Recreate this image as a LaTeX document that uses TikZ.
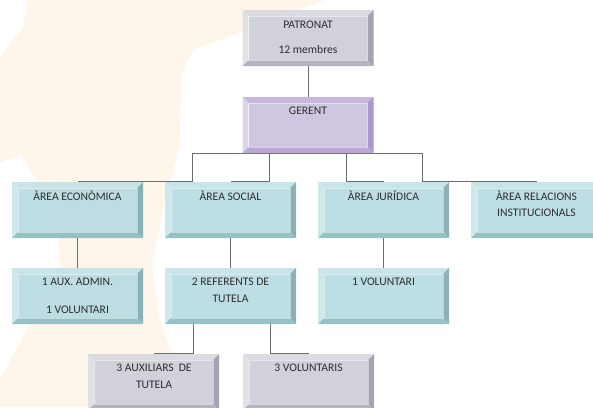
\documentclass[tikz,border=0pt]{standalone}
\usepackage{fontspec}
\setmainfont{Carlito}
\pgfdeclarelayer{back}
\pgfdeclarelayer{conn}
\pgfsetlayers{back,conn,main}
\definecolor{cream}{HTML}{FEF6EA}
\definecolor{txtc}{HTML}{2E2E2E}
\definecolor{linec}{HTML}{6E6E6E}
\definecolor{tface}{HTML}{B6DBE2}
\definecolor{ttop}{HTML}{C2E2E7}
\definecolor{tleft}{HTML}{C9E6EB}
\definecolor{tright}{HTML}{7FA9B0}
\definecolor{tbot}{HTML}{8CBBC2}
\definecolor{gface}{HTML}{CDCDD8}
\definecolor{gtop}{HTML}{D8D8E1}
\definecolor{gleft}{HTML}{DEDEE6}
\definecolor{gright}{HTML}{9A9AA9}
\definecolor{gbot}{HTML}{ABABBB}
\definecolor{pface}{HTML}{CDC0DF}
\definecolor{ptop}{HTML}{C3AFD9}
\definecolor{pleft}{HTML}{DAD0E9}
\definecolor{pright}{HTML}{A48DC4}
\definecolor{pbot}{HTML}{B49FD1}
\tikzset{
  bev/.style n args={5}{rectangle, minimum width=131pt, minimum height=56pt, inner sep=0pt,
    path picture={
      \coordinate (qa) at (path picture bounding box.north west);
      \coordinate (qb) at (path picture bounding box.north east);
      \coordinate (qc) at (path picture bounding box.south east);
      \coordinate (qd) at (path picture bounding box.south west);
      \fill[#1, fill opacity=.9] ([shift={(6pt,-6pt)}]qa) rectangle ([shift={(-6pt,6pt)}]qc);
      \fill[#2, fill opacity=.9] (qa) -- (qb) -- ([shift={(-6pt,-6pt)}]qb) -- ([shift={(6pt,-6pt)}]qa) -- cycle;
      \fill[#3, fill opacity=.9] (qa) -- ([shift={(6pt,-6pt)}]qa) -- ([shift={(6pt,6pt)}]qd) -- (qd) -- cycle;
      \fill[#4, fill opacity=.9] (qb) -- (qc) -- ([shift={(-6pt,6pt)}]qc) -- ([shift={(-6pt,-6pt)}]qb) -- cycle;
      \fill[#5, fill opacity=.9] (qd) -- (qc) -- ([shift={(-6pt,6pt)}]qc) -- ([shift={(6pt,6pt)}]qd) -- cycle;
      \draw[white, opacity=.45, line width=.6pt] ([shift={(6pt,-6pt)}]qa) rectangle ([shift={(-6pt,6pt)}]qc);
    }},
  tealbox/.style={bev={tface}{ttop}{tleft}{tright}{tbot}},
  graybox/.style={bev={gface}{gtop}{gleft}{gright}{gbot}},
  purplebox/.style={bev={pface}{ptop}{pleft}{pright}{pbot}},
  txt/.style={font=\fontsize{11.6}{14}\selectfont, text=txtc, inner sep=0pt, anchor=base},
  conn/.style={draw=linec, line width=0.8pt},
}
\begin{document}
\begin{tikzpicture}[x=1pt,y=-1pt]
\useasboundingbox (0,0) rectangle (593,407);
\begin{pgfonlayer}{back}
\fill[white] (0,0) rectangle (593,407);
\fill[cream] (28,0) -- (325,0) -- (193,50) -- (182,72) -- (179,150) -- (165,200) -- (152,265)
  -- (160,320) -- (172,353) -- (200,407) -- (0,407) -- (0,380) -- (60,267) -- (59,237)
  -- (38,182) -- (21,155) -- (0,163) -- (0,57) -- (23,27) -- cycle;
\end{pgfonlayer}

% boxes
\node[graybox] (pat) at (308,38) {};
\node[purplebox] (ger) at (308,125) {};
\node[tealbox] (eco) at (77.5,210) {};
\node[tealbox] (soc) at (230.5,210) {};
\node[tealbox] (jur) at (383.5,210) {};
\node[tealbox] (rel) at (536.5,210) {};
\node[tealbox] (ecos) at (77.5,296) {};
\node[tealbox] (ref) at (230.5,296) {};
\node[tealbox] (vol1) at (383.5,296) {};
\node[graybox] (aux) at (153.5,382) {};
\node[graybox] (vols) at (308.5,382) {};

% connectors
\begin{pgfonlayer}{conn}
\draw[conn] (pat.south) -- (ger.north);
\coordinate (g1) at (192,153);
\coordinate (g2) at (269,153);
\coordinate (g3) at (346,153);
\coordinate (g4) at (422,153);
\draw[conn] (g1) -- (g4);
\draw[conn] (g1) -- (g1 |- eco.north) -- (eco.north);
\draw[conn] (g2) -- (g2 |- soc.north) -- (soc.north);
\draw[conn] (g3) -- (g3 |- jur.north) -- (jur.north);
\draw[conn] (g4) -- (g4 |- rel.north) -- (rel.north);
\draw[conn] (eco.south) -- (ecos.north);
\draw[conn] (soc.south) -- (ref.north);
\draw[conn] (jur.south) -- (vol1.north);
\coordinate (r1) at (193,324);
\coordinate (r2) at (270,324);
\draw[conn] (r1) -- (r1 |- aux.north) -- (aux.north);
\draw[conn] (r2) -- (r2 |- vols.north) -- (vols.north);
\end{pgfonlayer}

% texts
\node[txt] (tpat1) at (308,28.7) {PATRONAT};
\node[txt] (tpat2) at (308,53.7) {12 membres};
\node[txt] (tger) at (308,114.7) {GERENT};
\node[txt] (teco) at (77.5,200.7) {ÀREA ECONÒMICA};
\node[txt] (tsoc) at (230.5,200.7) {ÀREA SOCIAL};
\node[txt] (tjur) at (383.5,200.7) {ÀREA JURÍDICA};
\node[txt] (trel1) at (536.5,200.7) {ÀREA RELACIONS};
\node[txt] (trel2) at (536.5,216.7) {INSTITUCIONALS};
\node[txt] (tecos1) at (77.5,285.7) {1 AUX. ADMIN.};
\node[txt] (tecos2) at (77.5,313.7) {1 VOLUNTARI};
\node[txt] (tref1) at (230.5,285.7) {2 REFERENTS DE};
\node[txt] (tref2) at (230.5,302.7) {TUTELA};
\node[txt] (tvol1) at (383.5,285.7) {1 VOLUNTARI};
\node[txt] (taux1) at (154,371.7) {3 AUXILIARS\hspace{2.5pt} DE};
\node[txt] (taux2) at (154,388.7) {TUTELA};
\node[txt] (tvols) at (308.5,371.7) {3 VOLUNTARIS};
\end{tikzpicture}
\end{document}
